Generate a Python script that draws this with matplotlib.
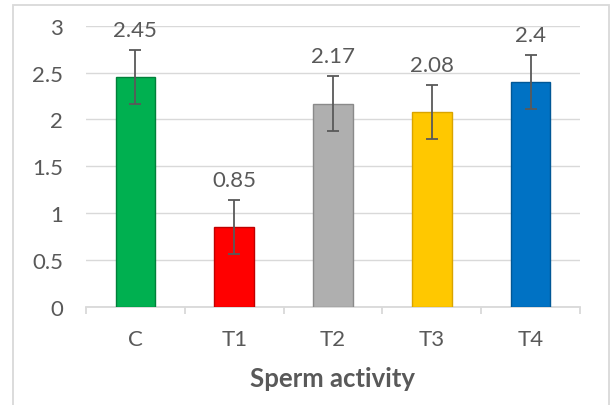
import matplotlib
matplotlib.use("Agg")
import matplotlib.pyplot as plt
from matplotlib.patches import Rectangle

categories = ["C", "T1", "T2", "T3", "T4"]
values = [2.45, 0.85, 2.17, 2.08, 2.4]
errors = [0.29, 0.29, 0.29, 0.29, 0.29]
labels = ["2.45", "0.85", "2.17", "2.08", "2.4"]
colors = ["#00B050", "#FF0000", "#AFAFAF", "#FFC800", "#0072C4"]
edges = ["#00803A", "#C00000", "#8A8A8A", "#D9A400", "#005796"]
yticks = [0, 0.5, 1, 1.5, 2, 2.5, 3]
ytick_labels = ["0", "0.5", "1", "1.5", "2", "2.5", "3"]
xlabel = "Sperm activity"

plt.rcParams['font.family'] = ['Lato', 'DejaVu Sans']
txt = "#595959"
grid = "#D9D9D9"

fig = plt.figure(figsize=(6.11, 4.06), dpi=100)
ax = fig.add_axes([86/611, 1-308/406, (580-86)/611, (308-26.7)/406])

x = list(range(len(categories)))
ax.bar(x, values, width=0.40, color=colors, edgecolor=edges, linewidth=1.0, zorder=3)
ax.errorbar(x, values, yerr=errors, fmt='none', ecolor="#595959", elinewidth=1.3,
            capsize=4.5, capthick=1.3, zorder=4)
for xi, v, e, lab in zip(x, values, errors, labels):
    ax.annotate(lab, (xi, v + e), xytext=(0, 14.5), textcoords='offset points',
                ha='center', va='center', fontsize=16, color=txt, zorder=5)

ax.set_xlim(-0.5, len(categories) - 0.5)
ax.set_ylim(0, 3)
ax.set_yticks(yticks)
ax.set_yticklabels(ytick_labels)
ax.set_xticks(x)
ax.set_xticklabels(categories)
ax.yaxis.grid(True, color=grid, linewidth=1.0, zorder=0)
ax.set_axisbelow(True)
for s in ['top', 'right', 'left']:
    ax.spines[s].set_visible(False)
ax.spines['bottom'].set_color(grid)
ax.spines['bottom'].set_linewidth(1.3)
ax.tick_params(axis='y', length=0, labelsize=16, labelcolor=txt, pad=16.5)
ax.tick_params(axis='x', length=0, labelsize=16, labelcolor=txt, pad=16)
# category boundary tick marks
ax.set_xticks([i - 0.5 for i in range(len(categories) + 1)], minor=True)
ax.tick_params(axis='x', which='minor', length=5, width=1.3, color=grid)
ax.set_xlabel(xlabel, fontsize=18.5, fontweight='bold', color=txt, labelpad=12)

# outer chart frame
fig.patches.append(Rectangle((13/611, -0.01), (609-13)/611, 1-5.5/406 + 0.01,
                             transform=fig.transFigure, fill=False,
                             edgecolor=grid, linewidth=1.3))
# cut-off body text from the page above
fig.text(15/611, 1 - 0.5/406, "compared with control as well as with each other",
         va='bottom', ha='left', fontsize=17.5, color='black')

fig.savefig("out.png", dpi=100)
